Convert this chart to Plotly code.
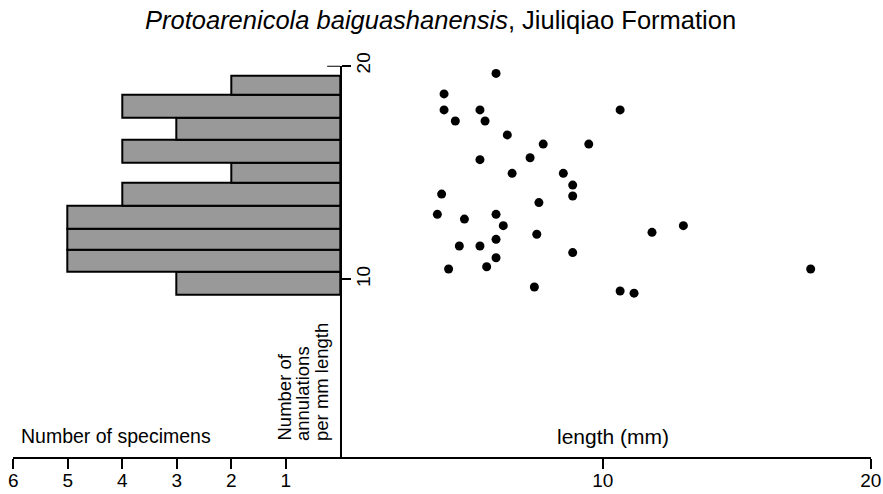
import plotly.graph_objects as go

# ---------------- data ----------------
# histogram: number of specimens per class of annulations per mm length
bin_edges = [9.27, 10.36, 11.37, 12.39, 13.45, 14.52, 15.46, 16.55, 17.58, 18.63, 19.53]
specimen_counts = [3, 5, 5, 5, 4, 2, 4, 3, 4, 2]

# scatter: body length (mm) vs annulations per mm length
length_mm = [6.02, 4.08, 4.08, 5.42, 4.50, 5.61, 6.44, 7.78, 5.42, 7.29, 6.62, 3.99,
             7.62, 3.83, 4.84, 6.02, 6.29, 7.54, 4.65, 5.42, 6.02, 6.02, 4.25, 5.67,
             7.45, 10.65, 9.48, 8.53, 8.88, 8.88, 11.84, 8.88, 10.65, 11.17, 13.01, 17.76]
annulations = [19.64, 18.68, 17.93, 17.93, 17.41, 17.41, 16.76, 16.33, 15.60, 15.69, 14.96, 13.99,
               13.59, 13.04, 12.82, 13.04, 12.51, 12.11, 11.56, 11.56, 11.87, 11.01, 10.48, 10.59,
               9.64, 17.93, 16.33, 14.96, 14.41, 13.90, 12.20, 11.25, 9.45, 9.35, 12.51, 10.48]

count_ticks = [6, 5, 4, 3, 2, 1]
length_ticks = [10, 20]
annulation_ticks = [10, 20]

title_html = "<i>Protoarenicola baiguashanensis</i>, Jiuliqiao Formation"
count_label = "Number of specimens"
length_label = "length (mm)"
y_label_lines = ["Number of", "annulations", "per mm length"]

# ---------------- layout geometry (pixels) ----------------
W, H = 883, 494
LEFT_PX, AXIS_PX, RIGHT_PX = 13.3, 340.2, 870.7
TOP_PX, BOTTOM_PX = 65.7, 456.7
FONT = "Liberation Sans, Arial, Helvetica, sans-serif"


def px_x(v):
    return v / W


def px_y(v):
    return 1 - v / H


centers = [(a + b) / 2 for a, b in zip(bin_edges[:-1], bin_edges[1:])]
widths = [b - a for a, b in zip(bin_edges[:-1], bin_edges[1:])]

fig = go.Figure()
fig.add_trace(go.Bar(
    x=specimen_counts, y=centers, width=widths, orientation="h",
    marker=dict(color="#999999", line=dict(color="black", width=2)),
    xaxis="x", yaxis="y", showlegend=False, hoverinfo="skip",
))
fig.add_trace(go.Scatter(
    x=length_mm, y=annulations, mode="markers",
    marker=dict(color="black", size=9),
    xaxis="x2", yaxis="y", showlegend=False,
))

axis_common = dict(
    showline=True, linecolor="black", linewidth=2,
    ticks="outside", ticklen=10, tickwidth=2, tickcolor="black",
    showgrid=False, zeroline=False, automargin=False,
    fixedrange=True,
)
x_tickfont = dict(family=FONT, size=19, color="black")

fig.update_layout(
    width=W, height=H,
    margin=dict(l=0, r=0, t=0, b=0),
    paper_bgcolor="white", plot_bgcolor="white",
    bargap=0,
    font=dict(family=FONT, color="black"),
    xaxis=dict(domain=[px_x(LEFT_PX), px_x(AXIS_PX)], range=[6, 0],
               tickvals=count_ticks, anchor="y", tickfont=x_tickfont,
               ticklabelstandoff=-5, **axis_common),
    xaxis2=dict(domain=[px_x(AXIS_PX), px_x(RIGHT_PX)], range=[0.205, 20],
                tickvals=length_ticks, anchor="y", tickfont=x_tickfont,
                ticklabelstandoff=-5, **axis_common),
    yaxis=dict(domain=[px_y(BOTTOM_PX), px_y(TOP_PX)], range=[1.695, 20],
               tickvals=annulation_ticks, anchor="x", side="right",
               tickangle=-90, ticklabelstandoff=-4,
               tickfont=dict(family=FONT, size=19, color="black"),
               **{**axis_common, "ticklen": 9}),
)

# small cap at top of the vertical axis (left half)
fig.add_shape(type="line", xref="paper", yref="y",
              x0=px_x(AXIS_PX - 13), x1=px_x(AXIS_PX), y0=20, y1=20,
              line=dict(color="black", width=2))

annots = [
    dict(text=title_html, x=px_x(440), y=px_y(20), xanchor="center", yanchor="middle",
         font=dict(family=FONT, size=25.5, color="black")),
    dict(text=count_label, x=px_x(19), y=px_y(436), xanchor="left", yanchor="middle",
         font=dict(family=FONT, size=19.5, color="black")),
    dict(text=length_label, x=px_x(613), y=px_y(436), xanchor="center", yanchor="middle",
         font=dict(family=FONT, size=21, color="black")),
]
for line, xc in zip(y_label_lines, [284, 302.5, 321]):
    annots.append(dict(text=line, x=px_x(xc), y=px_y(443), xanchor="center", yanchor="bottom",
                       textangle=-90, font=dict(family=FONT, size=18.5, color="black")))
for a in annots:
    fig.add_annotation(xref="paper", yref="paper", showarrow=False, **a)

fig.write_html("out.html")
